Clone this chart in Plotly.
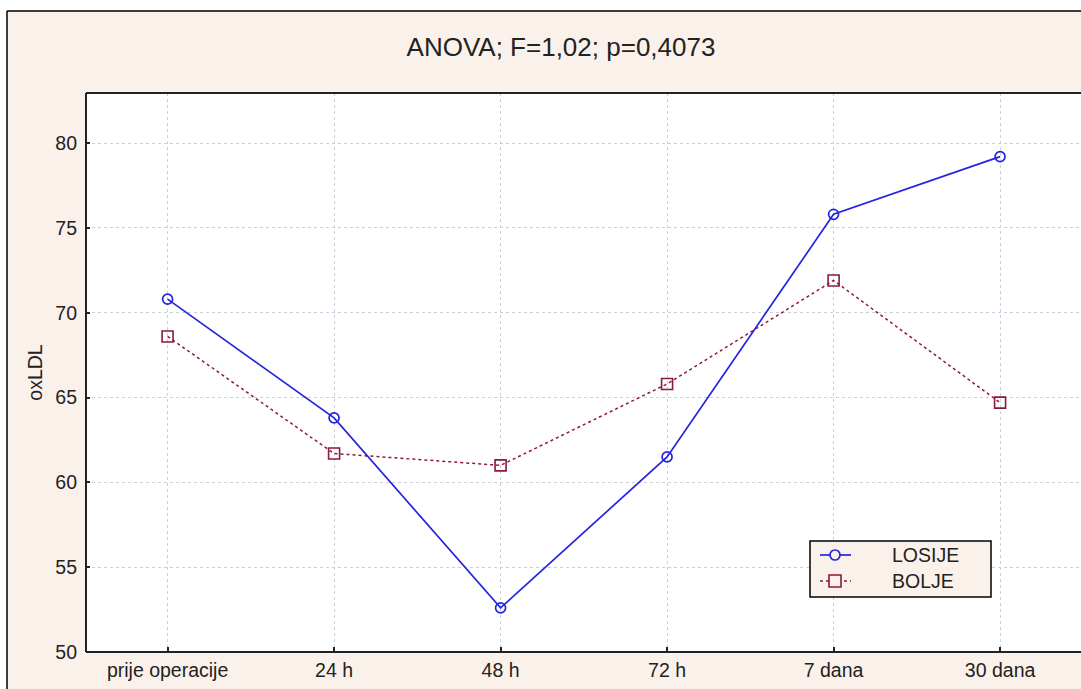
import plotly.graph_objects as go

categories = ["prije operacije", "24 h", "48 h", "72 h", "7 dana", "30 dana"]
losije = [70.8, 63.8, 52.6, 61.5, 75.8, 79.2]
bolje = [68.6, 61.7, 61.0, 65.8, 71.9, 64.7]
y_ticks = [50, 55, 60, 65, 70, 75, 80]
series_names = ["LOSIJE", "BOLJE"]

BG = "#FBF1EB"
TXT = "#222222"
BLUE = "#2424E0"
RED = "#8B1A3C"
W, H = 1081, 689
L, T, B, R = 86, 93, 37, 0
pw = W - L - R
ph = H - T - B

def px_x(v):
    return (v - L) / pw

def px_y(v):
    return (H - B - v) / ph

fig = go.Figure()
xs = list(range(len(categories)))
fig.add_trace(go.Scatter(
    x=xs, y=losije, name=series_names[0], mode="lines+markers", showlegend=False,
    line=dict(color=BLUE, width=1.7),
    marker=dict(symbol="circle-open", size=10, color=BLUE, line=dict(width=1.7)),
))
fig.add_trace(go.Scatter(
    x=xs, y=bolje, name=series_names[1], mode="lines+markers", showlegend=False,
    line=dict(color=RED, width=1.5, dash="dot"),
    marker=dict(symbol="square-open", size=11, color=RED, line=dict(width=1.6)),
))

shapes = []
def shp(**kw):
    d = dict(xref="paper", yref="paper", layer="above")
    d.update(kw)
    shapes.append(d)

# white strips outside the beige frame + frame border lines
shp(type="rect", x0=px_x(0), x1=px_x(W), y0=px_y(10), y1=px_y(0), fillcolor="white", line=dict(width=0))
shp(type="rect", x0=px_x(0), x1=px_x(6), y0=px_y(H), y1=px_y(0), fillcolor="white", line=dict(width=0))
shp(type="line", x0=px_x(7), x1=px_x(W), y0=px_y(11), y1=px_y(11), line=dict(color="black", width=1.5))
shp(type="line", x0=px_x(7), x1=px_x(7), y0=px_y(11), y1=px_y(H), line=dict(color="black", width=1.5))
# plot area border: left, top, bottom
for (x0, y0, x1, y1) in [(0, 0, 0, 1), (0, 1, 1, 1), (0, 0, 1, 0)]:
    shp(type="line", x0=x0, y0=y0, x1=x1, y1=y1, line=dict(color=TXT, width=2))

# legend box (drawn by hand)
shp(type="rect", x0=px_x(810), x1=px_x(991), y0=px_y(597), y1=px_y(541),
    fillcolor=BG, line=dict(color="black", width=1.5))
shp(type="line", x0=px_x(820), x1=px_x(851), y0=px_y(555), y1=px_y(555), line=dict(color=BLUE, width=1.7))
shp(type="circle", x0=px_x(830), x1=px_x(840), y0=px_y(560), y1=px_y(550),
    fillcolor=BG, line=dict(color=BLUE, width=1.7))
shp(type="line", x0=px_x(820), x1=px_x(851), y0=px_y(581), y1=px_y(581),
    line=dict(color=RED, width=1.5, dash="dot"))
shp(type="rect", x0=px_x(829), x1=px_x(841), y0=px_y(587), y1=px_y(575),
    fillcolor=BG, line=dict(color=RED, width=1.6))

annotations = [
    dict(text=series_names[0], x=px_x(890), y=px_y(555), xref="paper", yref="paper",
         xanchor="left", yanchor="middle", showarrow=False, font=dict(size=19.5, color=TXT)),
    dict(text=series_names[1], x=px_x(890), y=px_y(581), xref="paper", yref="paper",
         xanchor="left", yanchor="middle", showarrow=False, font=dict(size=19.5, color=TXT)),
]

fig.update_layout(
    width=W, height=H,
    margin=dict(l=L, r=R, t=T, b=B, pad=0),
    paper_bgcolor=BG, plot_bgcolor="white",
    font=dict(family="Liberation Sans, Arial, sans-serif", color=TXT, size=19),
    title=dict(text="ANOVA; F=1,02; p=0,4073", x=561 / W, xanchor="center",
               y=1 - 47 / H, yanchor="middle", font=dict(size=26, color=TXT)),
    showlegend=False,
    shapes=shapes,
    annotations=annotations,
    xaxis=dict(
        tickmode="array", tickvals=xs, ticktext=categories,
        range=[-0.49, 5.486], showgrid=True, gridcolor="#C9D0DC", griddash="dot", gridwidth=1,
        showline=False,
        ticks="inside", ticklen=5, tickcolor=TXT, tickwidth=2, zeroline=False,
        tickfont=dict(size=19.5, color=TXT), ticklabelstandoff=4,
    ),
    yaxis=dict(
        range=[50, 82.95], tickvals=y_ticks, showgrid=True, gridcolor="#C9D0DC",
        griddash="dot", gridwidth=1, showline=False,
        ticks="inside", ticklen=4, tickcolor=TXT, tickwidth=2, zeroline=False,
        title=dict(text="oxLDL", font=dict(size=19.5, color=TXT), standoff=7),
        tickfont=dict(size=19.5, color=TXT), ticklabelstandoff=8,
    ),
)

fig.write_html("out.html", config={"displayModeBar": False},
               post_script="document.body.style.margin='0px';document.body.style.overflow='hidden';")
